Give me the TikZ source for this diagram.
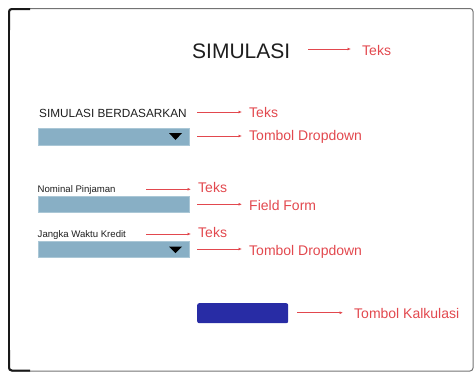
\documentclass[tikz,border=0pt]{standalone}
\usepackage{fontspec}
\setmainfont{Liberation Sans}
\usetikzlibrary{arrows.meta}
\definecolor{lblred}{RGB}{226,72,78}
\definecolor{fieldblue}{RGB}{136,175,197}
\definecolor{fieldedge}{RGB}{170,199,214}
\definecolor{btnblue}{RGB}{40,44,165}
\definecolor{txtdark}{RGB}{30,30,30}
\begin{document}
\begin{tikzpicture}[x=1pt,y=-1pt,
  uitext/.style={inner sep=0pt,anchor=base west,text=txtdark},
  redlbl/.style={inner sep=0pt,anchor=base west,text=lblred,font=\fontsize{14}{16}\selectfont},
  pointer/.style={draw=lblred,line width=0.8pt,-{Latex[length=3.5pt,width=3pt]}},
  fieldbox/.style={draw=fieldedge,fill=fieldblue,line width=0.8pt},
  ddarrow/.style={fill=black}
]
\useasboundingbox (0,0) rectangle (474,372);
% frame
\draw[draw=black!55,line width=1pt,rounded corners=3pt] (8.5,8.5) rectangle (473,371);
\draw[draw=black!90,line width=2pt,rounded corners=3pt] (9,30) -- (9,9) -- (30,9);
\draw[draw=black!90,line width=2pt] (9,30) -- (9,350);
\draw[draw=black!90,line width=2pt,rounded corners=3pt] (9,350) -- (9,370.5) -- (30,370.5);

% title
\node[uitext,font=\fontsize{21}{24}\selectfont] (title) at (192,58) {SIMULASI};
\coordinate (p1s) at (308,49);
\coordinate (p1e) at (351,49);
\node[redlbl] (l1) at (362,55) {Teks};
\draw[pointer] (p1s) -- (p1e);

% simulasi berdasarkan
\node[uitext,font=\fontsize{11.8}{14}\selectfont] (sb) at (39,117) {SIMULASI BERDASARKAN};
\coordinate (p2s) at (197,112);
\coordinate (p2e) at (242,112);
\node[redlbl] (l2) at (249,117) {Teks};
\draw[pointer] (p2s) -- (p2e);

% dropdown 1
\node[fieldbox,minimum width=151pt,minimum height=17pt,inner sep=0pt,anchor=north west] (dd1) at (37.5,128) {};
\fill[ddarrow] (169,133) -- (182,133) -- (175.5,140) -- cycle;
\coordinate (p3s) at (197,136);
\coordinate (p3e) at (242,136);
\node[redlbl] (l3) at (249,140.7) {Tombol Dropdown};
\draw[pointer] (p3s) -- (p3e);

% nominal pinjaman
\node[uitext,font=\fontsize{9.6}{11}\selectfont] (np) at (37.5,192.7) {Nominal Pinjaman};
\coordinate (p4s) at (146,189.3);
\coordinate (p4e) at (191,189.3);
\node[redlbl] (l4) at (198,192.7) {Teks};
\draw[pointer] (p4s) -- (p4e);

% field
\node[fieldbox,minimum width=151pt,minimum height=16pt,inner sep=0pt,anchor=north west] (ff) at (37.5,196) {};
\coordinate (p5s) at (197,204.3);
\coordinate (p5e) at (242,204.3);
\node[redlbl] (l5) at (249,210) {Field Form};
\draw[pointer] (p5s) -- (p5e);

% jangka waktu kredit
\node[uitext,font=\fontsize{9.6}{11}\selectfont] (jw) at (37.5,237) {Jangka Waktu Kredit};
\coordinate (p6s) at (146,234);
\coordinate (p6e) at (191,234);
\node[redlbl] (l6) at (198,237) {Teks};
\draw[pointer] (p6s) -- (p6e);

% dropdown 2
\node[fieldbox,minimum width=151pt,minimum height=16pt,inner sep=0pt,anchor=north west] (dd2) at (37.5,241) {};
\fill[ddarrow] (169,246.5) -- (182,246.5) -- (175.5,253) -- cycle;
\coordinate (p7s) at (197,249);
\coordinate (p7e) at (242,249);
\node[redlbl] (l7) at (249,255) {Tombol Dropdown};
\draw[pointer] (p7s) -- (p7e);

% button
\node[fill=btnblue,rounded corners=2pt,minimum width=91pt,minimum height=20pt,inner sep=0pt,anchor=north west] (btn) at (197,303) {};
\coordinate (p8s) at (297,312.7);
\coordinate (p8e) at (343,312.7);
\node[redlbl] (l8) at (354,318) {Tombol Kalkulasi};
\draw[pointer] (p8s) -- (p8e);
\end{tikzpicture}
\end{document}
